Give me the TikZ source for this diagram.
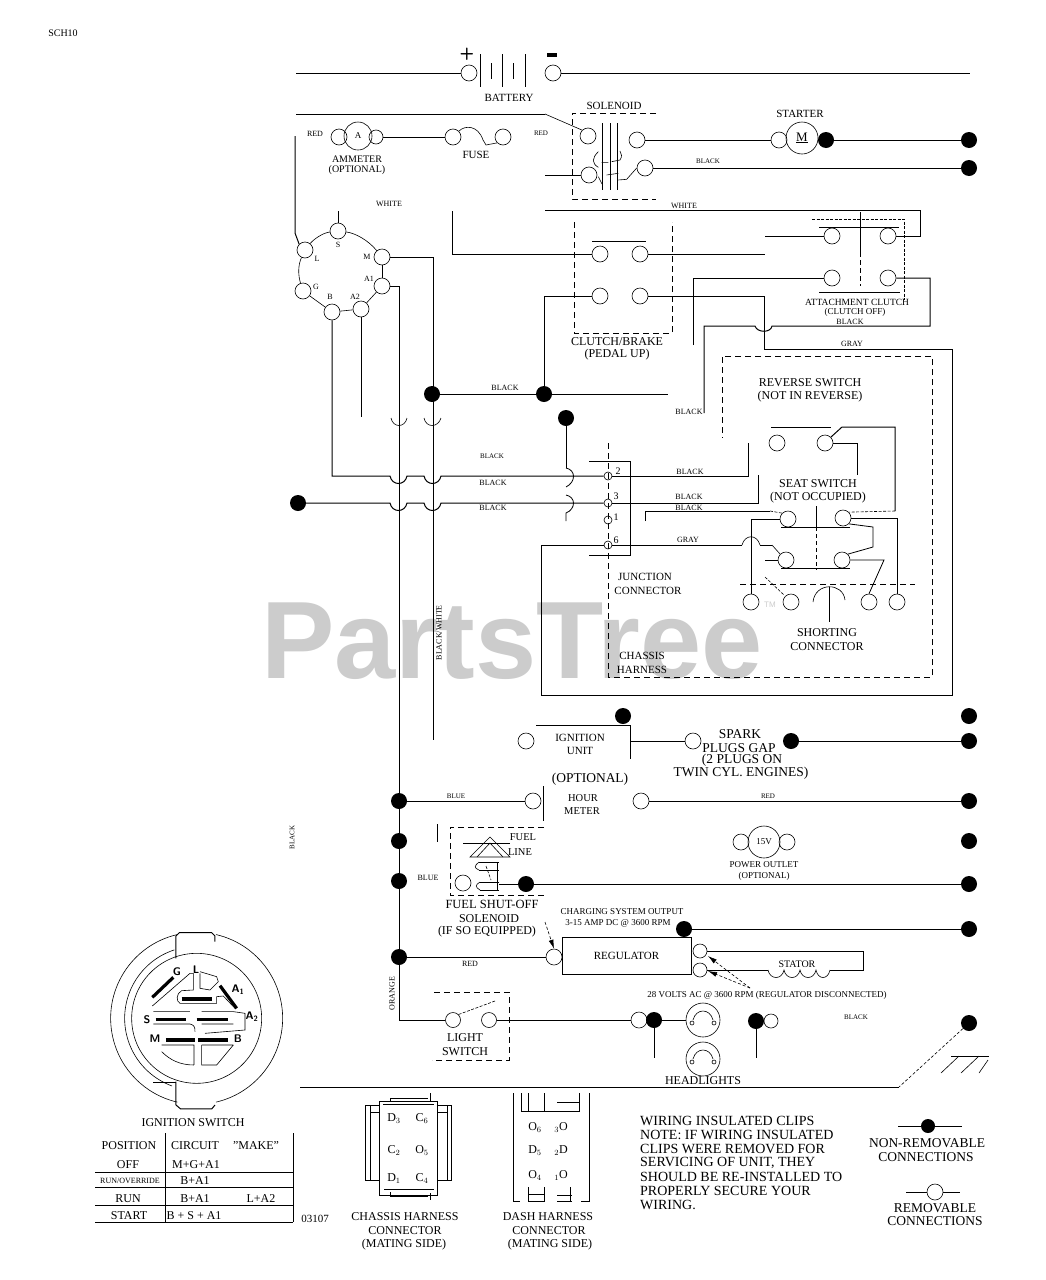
\documentclass[tikz,border=0pt]{standalone}
\usepackage{fontspec}
\setmainfont{Liberation Serif}
\newfontfamily\wmfont{Liberation Sans}
\usetikzlibrary{arrows.meta}
\newcounter{tx}
\newcommand\lb[3][]{\stepcounter{tx}\node[lab,#1] (t\thetx) at (#2) {#3};}
\newcommand\rg[3][]{\node[ring,#1] (#2) at (#3) {};}
\newcommand\bl[3][]{\node[blob,#1] (#2) at (#3) {};}
\tikzset{
 wire/.style={line width=1pt},
 thin wire/.style={line width=.6pt},
 dash wire/.style={line width=.8pt,dash pattern=on 6pt off 4pt},
 fine dash/.style={line width=.6pt,dash pattern=on 3pt off 1.5pt},
 ring/.style={circle,draw,line width=.6pt,minimum size=16pt,inner sep=0pt},
 smallring/.style={minimum size=14pt},
 pin/.style={minimum size=8pt},
 blob/.style={circle,fill=black,minimum size=16pt,inner sep=0pt},
 lab/.style={font=\fontsize{12}{13}\selectfont,inner sep=0pt,align=center,yshift=-.7pt},
 big/.style={font=\fontsize{13.5}{14}\selectfont},
 note/.style={font=\fontsize{14}{15}\selectfont,anchor=west},
 mid/.style={font=\fontsize{10}{11}\selectfont},
 sml/.style={font=\fontsize{8}{9}\selectfont},
 smlb/.style={font=\fontsize{9}{10}\selectfont},
 tiny/.style={font=\fontsize{7}{8}\selectfont},
 term/.style={font=\fontsize{11}{12}\selectfont\bfseries\sffamily},
 bar/.style={line width=3.2pt},
 tip/.style={-{Latex[length=9pt,width=5pt]},line width=.6pt,densely dashed},
}
\begin{document}
\begin{tikzpicture}[x=1pt,y=-1pt]
\useasboundingbox[fill=white] (0,0) rectangle (1046,1280);
% watermark
\node[inner sep=0pt,text=black!20] (wm) at (512,641) {\wmfont\fontsize{110}{112}\selectfont\bfseries PartsTree};
\node[inner sep=0pt,text=black!20] (tm) at (770,605) {\wmfont\fontsize{8}{9}\selectfont TM};
\lb{63,33}{\fontsize{10}{11}\selectfont SCH10}

% ---- battery
\rg{batp}{469,73}\rg{batn}{553,73}
\coordinate (wl1) at (296,73); \coordinate (wr1) at (970,73);
\draw[wire] (wl1) -- (batp.west);
\draw[wire] (batn.east) -- (wr1);
\foreach \x/\a/\b in {480/54/87,491/63/79,502/54/87,513/63/79,525/54/87}\draw[thin wire,line width=.8pt] (\x,\a) -- (\x,\b);
\node[inner sep=0pt,font=\fontsize{17}{17}\selectfont\bfseries\sffamily] (plus) at (467,54) {+};
\node[inner sep=0pt,fill=black,minimum width=10pt,minimum height=3.2pt] (minus) at (552,55) {};
\lb[font=\fontsize{11}{12}\selectfont]{509,97}{BATTERY}

% ---- solenoid
\lb[font=\fontsize{11}{12}\selectfont]{614,105}{SOLENOID}
\draw[dash wire] (656,113) -- (572,113) -- (572,199) -- (656,199);
\rg{solA}{588,136}\rg{solB}{637,140}\rg{solC}{589,175}\rg{solD}{645,168}
\foreach \x in {602,610,617}\draw[thin wire,line width=.8pt] (\x,123) -- (\x,190);
\begin{scope}[shift={(540,80)},scale=.3333]
\draw[thin wire] (175,215) .. controls (155,235) and (155,250) .. (175,262);
\draw[thin wire] (185,248) -- (205,248) (215,245) -- (240,240) .. controls (247,230) and (245,222) .. (240,213);
\draw[thin wire] (200,285) -- (235,280) (235,300) -- (260,298) -- (solD.west);
\draw[thin wire] (175,290) -- (186,312);
\end{scope}
\coordinate (wl2) at (296,114); \coordinate (wl3) at (545,175);
\draw[wire] (wl2) -- (545,114);
\draw[thin wire] (545,114) -- (solA.north west);
\draw[wire] (wl3) -- (solC.west);
\lb[tiny]{541,133}{RED}

% ---- starter
\lb[font=\fontsize{11}{12}\selectfont]{800,113}{STARTER}
\rg{startL}{779,140}
\node[ring,minimum size=32pt] (motor) at (802,138) {\fontsize{13}{13}\selectfont\underline{M}};
\bl{startR}{826,140}\bl{e1}{969,140}\bl{e2}{969,168}
\draw[wire] (solB.east) -- (startL.west);
\draw[wire] (startR) -- (e1);
\draw[wire] (solD.east) -- (e2);
\lb[tiny]{708,161}{BLACK}

% ---- ammeter and fuse
\rg{amL}{339,137}
\node[ring,minimum size=28pt] (am) at (358,136) {\fontsize{9}{9}\selectfont A};
\rg[smallring]{amR}{376,137}
\rg{fuL}{453,137}\rg{fuR}{503,137}
\draw[wire] (amR.east) -- (fuL.west);
\draw[thin wire] (fuL.north east) .. controls (465,125) and (478,125) .. (483,140) -- (486,145) -- (fuR.south west);
\lb[sml]{315,133}{RED}
\lb[mid]{357,158}{AMMETER}
\lb[mid]{357,169}{(OPTIONAL)}
\lb[font=\fontsize{11}{12}\selectfont]{476,154}{FUSE}
\lb[sml]{389,203}{WHITE}

% ---- key switch terminals
\rg{kL}{305,250}\rg{kS}{338,231}\rg{kM}{382,257}\rg{kAa}{382,286}\rg{kAb}{361,309}\rg{kB}{332,312}\rg{kG}{303,291}
\draw[thin wire] (kL) .. controls (313,240) and (322,233) .. (kS);
\draw[thin wire] (kS) .. controls (355,233) and (368,240) .. (kM);
\draw[thin wire] (kM) -- (kAa);
\draw[thin wire] (kAa) -- (kAb);
\draw[thin wire] (kAb) -- (kB);
\draw[thin wire] (kB) -- (kG);
\draw[thin wire] (kG) .. controls (298,275) and (298,265) .. (kL);
\lb[sml]{338,244}{S}
\lb[sml]{317,258}{L}
\lb[sml]{316,286}{G}
\lb[sml]{330,296}{B}
\lb[sml]{367,256}{M}
\lb[sml]{369,278}{A1}
\lb[sml]{355,296}{A2}
\coordinate (sTop) at (338,211);
\draw[wire] (sTop) -- (kS.north);
\coordinate (redTop) at (295,136);
\draw[wire] (redTop) -- (295,233) -- (kL.north west);
\coordinate (mEnd) at (433,740);
\draw[wire] (kM.east) -- (433,257) -- (mEnd);
\coordinate (busEnd) at (399,1020);
\coordinate (a2End) at (361,417);
\draw[wire] (kAb.south) -- (a2End);
\draw[thin wire] (391,418) .. controls (393,428) and (405,428) .. (407,418);
\draw[thin wire] (424,418) .. controls (426,428) and (438,428) .. (441,418);

% ---- clutch/brake
\draw[dash wire] (574,222) -- (574,333) -- (672,333) -- (672,222);
\rg{cbA}{600,254}\rg{cbB}{640,254}\rg{cbC}{600,296}\rg{cbD}{640,296}
\draw[thin wire,line width=.8pt] (592,241) -- (646,241);
\lb{617,341}{CLUTCH/BRAKE}
\lb{617,354}{(PEDAL UP)}
\coordinate (wTop) at (452,211); \coordinate (wMid) at (765,254);
\draw[wire] (wTop) -- (452,254) -- (cbA.west);
\draw[wire] (cbB.east) -- (wMid);

% ---- attachment clutch
\rg{acA}{832,236}\rg{acB}{888,236}\rg{acC}{832,278}\rg{acD}{888,278}
\draw[fine dash,line width=.8pt] (812,219) -- (904,219) -- (904,300);
\draw[wire] (860,212) -- (860,252);
\draw[fine dash,line width=.8pt,dash pattern=on 5pt off 3pt] (860,252) -- (860,286);
\draw[thin wire,line width=.8pt] (819,227) -- (899,227) (819,292) -- (900,292);
\lb[font=\fontsize{9.5}{10}\selectfont]{857,302}{ATTACHMENT CLUTCH}
\lb[font=\fontsize{9}{10}\selectfont]{855,312}{(CLUTCH OFF)}
\lb[sml]{850,321}{BLACK}
\lb[sml]{684,205}{WHITE}
\lb[sml]{852,343}{GRAY}
\coordinate (wa) at (545,210); \coordinate (wb) at (765,236); \coordinate (wc) at (693,345);
\draw[wire] (wa) -- (920,210) -- (920,236) -- (acB.east);
\draw[wire] (wb) -- (acA.west);
\draw[wire] (wc) -- (693,278) -- (acC.west);
\coordinate (blEnd) at (704,413);
\draw[wire] (acD.east) -- (930,278) -- (930,326) -- (772,326) .. controls (771,333) and (757,333) .. (755,326) -- (704,326) -- (blEnd);
\lb[sml]{689,411}{BLACK}

% ---- black junction dots
\bl{d1}{432,394}\bl{d2}{544,394}\bl{d3}{566,418}
\coordinate (blk) at (668,394);
\draw[wire] (d1) -- (d2) -- (blk);
\draw[wire] (d2) -- (544,296) -- (cbC.west);
\lb[sml]{505,387}{BLACK}

% ---- junction connector
\node[ring,pin] (p2) at (608,476) {};
\node[ring,pin] (p3) at (608,503) {};
\node[ring,pin] (p1) at (608,520) {};
\node[ring,pin] (p6) at (608,545) {};
\draw[dash wire,line width=.7pt] (608,443) -- (608,677) -- (932,677) -- (932,356) -- (722,356) -- (722,438);
\draw[wire] (589,461) -- (630,461) -- (630,555) -- (589,555);
\lb[sml,font=\fontsize{10}{11}\selectfont]{618,470}{2}
\lb[sml,font=\fontsize{10}{11}\selectfont]{616,496}{3}
\lb[sml,font=\fontsize{10}{11}\selectfont]{616,516}{1}
\lb[sml,font=\fontsize{10}{11}\selectfont]{616,540}{6}
\lb[font=\fontsize{11}{12}\selectfont]{645,576}{JUNCTION}
\lb[font=\fontsize{11}{12}\selectfont]{648,590}{CONNECTOR}
\lb[font=\fontsize{11}{12}\selectfont]{642,655}{CHASSIS}
\lb[font=\fontsize{11}{12}\selectfont]{642,669}{HARNESS}

% left crossing wires
\bl{d4}{298,503}
\draw[wire] (kB.south) -- (332,476) -- (390,476) .. controls (392,486) and (405,486) .. (407,476) -- (424,476) .. controls (426,486) and (439,486) .. (441,476) -- (p2.west);
\draw[wire] (d4) -- (390,503) .. controls (392,513) and (405,513) .. (407,503) -- (424,503) .. controls (426,513) and (439,513) .. (441,503) -- (p3.west);
\coordinate (d3End) at (566,521);
\draw[wire] (d3) -- (566,468);
\draw[thin wire,line width=.8pt] (566,468) .. controls (576,470) and (576,482) .. (566,487);
\draw[thin wire,line width=.8pt] (566,495) .. controls (576,497) and (576,509) .. (566,513) -- (d3End);
\draw[wire] (399,286) -- (busEnd);
\draw[wire] (kAa.east) -- (399,286);
\lb[tiny]{492,456}{BLACK}
\lb[sml]{493,482}{BLACK}
\lb[sml]{493,507}{BLACK}
\lb[sml,rotate=90]{439,632}{BLACK/WHITE}
\lb[tiny,rotate=90]{292,837}{BLACK}

% ---- reverse and seat switch
\lb{810,382}{REVERSE SWITCH}
\lb{810,396}{(NOT IN REVERSE)}
\rg{rvA}{777,443}\rg{rvB}{825,443}
\draw[thin wire,line width=.8pt] (771,427) -- (831,427);
\rg{seA}{788,519}\rg{seB}{843,518}\rg{seC}{786,560}\rg{seD}{842,560}
\rg{boA}{751,602}\rg{boB}{791,602}\rg{boC}{869,602}\rg{boD}{897,602}
\draw[thin wire,line width=.8pt] (781,527) -- (850,527) (781,568) -- (850,568);
\draw[wire] (816,506) -- (816,527);
\draw[dash wire,line width=.7pt,dash pattern=on 4pt off 3pt] (816,527) -- (816,570);
\draw[dash wire,line width=.7pt] (740,584) -- (915,584);
\lb{818,483}{SEAT SWITCH}
\lb{818,497}{(NOT OCCUPIED)}
\coordinate (sw2) at (748,443); \coordinate (sw3) at (758,475); \coordinate (sw1) at (645,521);
\draw[wire] (p2.east) -- (748,476) -- (sw2);
\draw[wire] (p3.east) -- (758,503) -- (sw3);
\draw[wire] (sw1) -- (645,511) -- (770,511);
\draw[fine dash] (770,511) -- (seA.north west);
\draw[wire] (rvB.north east) -- (842,427) -- (895,427) -- (895,511);
\draw[fine dash] (895,511) -- (seB.north east);
\coordinate (sw4) at (857,475);
\draw[wire] (rvB.east) -- (857,443) -- (sw4);
\draw[wire] (seA.west) -- (751,519) -- (boA.north);
\draw[wire] (seB.east) -- (897,518) -- (boD.north);
\draw[thin wire,line width=.8pt] (seB.south east) -- (873,527) -- (873,547) -- (seD.north east);
\draw[thin wire,line width=.8pt] (seD.east) -- (884,560) -- (boC.north);
\coordinate (stub) at (765,560);
\draw[wire] (stub) -- (seC.west);
\draw[fine dash] (765,577) -- (784,595);
\draw[thin wire] (772,545) -- (seC.north west);
\draw[thin wire] (742,545) .. controls (745,534) and (757,534) .. (760,545);
\draw[wire] (760,545) -- (772,545);
\draw[thin wire] (813,602) .. controls (815,582) and (843,582) .. (845,600);
\coordinate (sc) at (829,622);
\draw[wire] (829,587) -- (sc);
\lb{827,632}{SHORTING}
\lb{827,646}{CONNECTOR}
\lb[sml]{690,471}{BLACK}
\lb[sml]{689,496}{BLACK}
\lb[sml]{689,507}{BLACK}
\lb[sml]{688,539}{GRAY}

% gray loop
\draw[wire] (cbD.east) -- (764,296) -- (764,349) -- (952,349) -- (952,695) -- (541,695) -- (541,545) -- (p6.west);
\draw[wire] (p6.east) -- (742,545);

% ---- ignition unit
\bl{iu}{623,716}\bl{e3}{969,716}\bl{e4}{969,741}\bl{sp}{791,741}
\rg{iuA}{526,741}\rg{iuB}{693,741}
\draw[wire] (536,725) -- (630,725) -- (630,759);
\draw[wire] (630,741) -- (iuB.west);
\draw[wire] (sp) -- (e4);
\lb[font=\fontsize{11}{12}\selectfont]{580,737}{IGNITION}
\lb[font=\fontsize{11}{12}\selectfont]{580,750}{UNIT}
\lb[big]{740,733}{SPARK}
\lb[big]{739,747}{PLUGS GAP}
\lb[big]{742,760}{(2 PLUGS ON}
\lb[big]{741,773}{TWIN CYL. ENGINES)}

% ---- hour meter
\bl{b1}{399,801}\bl{b2}{399,841}\bl{b3}{399,881}\bl{b4}{399,957}
\bl{e5}{969,801}\bl{e6}{969,841}\bl{e7}{969,884}\bl{e8}{969,929}
\rg{hmA}{533,801}\rg{hmB}{641,801}
\draw[wire] (b1) -- (hmA.west);
\draw[wire] (hmB.east) -- (e5);
\draw[wire] (543,786) -- (543,821);
\lb[big]{590,779}{(OPTIONAL)}
\lb[font=\fontsize{10.5}{11}\selectfont]{583,797}{HOUR}
\lb[font=\fontsize{10.5}{11}\selectfont]{582,810}{METER}
\lb[tiny]{456,796}{BLUE}
\lb[tiny]{768,796}{RED}

% ---- fuel solenoid
\draw[dash wire,line width=.7pt] (544,827) -- (450,827) -- (450,895) -- (544,895);
\draw[wire] (437,824) -- (437,842);
\lb[font=\fontsize{10.5}{11}\selectfont]{523,836}{FUEL}
\lb[font=\fontsize{10.5}{11}\selectfont]{520,851}{LINE}
\draw[thin wire,line width=.8pt] (463,843) -- (510,843);
\draw[thin wire] (470,857) -- (490,837) -- (510,857) -- cycle;
\draw[thin wire] (477,857) -- (490,843) -- (503,857);
\draw[wire] (497,862) -- (497,890);
\draw[thin wire] (479,862) -- (499,862) (479,870) -- (499,870) (480,882) -- (499,882) (480,890) -- (499,890);
\draw[thin wire] (479,862) .. controls (474,866) and (474,868) .. (479,870) (480,882) .. controls (475,885) and (475,887) .. (480,890);
\draw[fine dash] (486,866) -- (491,880);
\rg{fsA}{463,883}\bl{fsB}{526,884}
\draw[wire] (499,884) -- (fsB) -- (e7);
\lb[tiny,font=\fontsize{8}{9}\selectfont]{428,877}{BLUE}
\lb[font=\fontsize{12.5}{13}\selectfont]{492,904}{FUEL SHUT-OFF}
\lb{489,918}{SOLENOID}
\lb{487,931}{(IF SO EQUIPPED)}

% ---- power outlet
\rg{poA}{741,842}\rg{poB}{787,842}
\node[ring,minimum size=32pt] (po) at (764,842) {\fontsize{9}{9}\selectfont 15V};
\lb[font=\fontsize{9}{10}\selectfont]{764,864}{POWER OUTLET}
\lb[font=\fontsize{9}{10}\selectfont]{764,876}{(OPTIONAL)}

% ---- regulator
\node[draw,line width=.8pt,minimum width=129pt,minimum height=37pt,inner sep=0pt,font=\fontsize{11}{12}\selectfont] (reg) at (626.5,955.5) {REGULATOR};
\rg{rgA}{554,957}\rg[smallring]{rgB}{700,951}\rg[smallring]{rgC}{700,970}
\bl{rgD}{684,929}
\draw[wire] (rgD) -- (e8);
\draw[wire] (b4) -- (rgA.west);
\coordinate (stA) at (768,970); \coordinate (stB) at (830,970);
\draw[wire] (rgB.east) -- (863,951) -- (863,970) -- (stB);
\draw[wire] (rgC.east) -- (stA);
\draw[thin wire] (stA) .. controls (770,980) and (782,980) .. (784,970) .. controls (786,980) and (798,980) .. (800,970) .. controls (802,980) and (814,980) .. (816,970) .. controls (818,980) and (828,980) .. (stB);
\lb[font=\fontsize{10}{11}\selectfont]{797,964}{STATOR}
\lb[smlb]{622,911}{CHARGING SYSTEM OUTPUT}
\lb[smlb]{618,923}{3-15 AMP DC @ 3600 RPM}
\lb[smlb]{767,995}{28 VOLTS AC @ 3600 RPM (REGULATOR DISCONNECTED)}
\lb[sml]{470,963}{RED}
\coordinate (tA) at (545,922); \coordinate (tB) at (750,988);
\draw[tip] (tA) -- (rgA.north);
\draw[tip] (tB) -- (708,956);
\draw[tip] (tB) -- (708,971);

% ---- light switch and headlights
\rg[minimum size=15pt]{lsA}{453,1020}\rg[minimum size=15pt]{lsB}{489,1020}
\draw[wire] (busEnd) -- (lsA.west);
\draw[dash wire,line width=.7pt] (434,992) -- (509,992) -- (509,1060) -- (432,1060);
\draw[fine dash] (lsA.north east) -- (495,1001);
\lb[sml,rotate=90]{392,993}{ORANGE}
\lb{465,1037}{LIGHT}
\lb{465,1051}{SWITCH}
\rg{hlA}{639,1020}\bl{hlB}{654,1020}\bl{hlC}{756,1021}\rg[smallring]{hlD}{771,1021}
\node[ring,minimum size=34pt] (hl1) at (703,1020) {};
\node[ring,minimum size=34pt] (hl2) at (703,1059) {};
\coordinate (hv1) at (654,1058); \coordinate (hv2) at (756,1058);
\draw[wire] (lsB.east) -- (hlA.west);
\draw[wire] (hlB) -- (hl1.west);
\draw[wire] (hlB) -- (hv1);
\draw[wire] (hlC) -- (hv2);
\foreach \c in {1020,1059}{
 \draw[thin wire] (693,\c) .. controls (696,\c-12) and (710,\c-12) .. (713,\c);
 \draw[thin wire] (692,\c+3) circle[radius=2pt] (714,\c+3) circle[radius=2pt];
}
\lb{703,1080}{HEADLIGHTS}
\lb[tiny]{856,1017}{BLACK}
\bl{gd}{969,1023}
\coordinate (gnd) at (899,1087); \coordinate (gl) at (300,1087);
\draw[wire] (gl) -- (gnd);
\draw[thin wire,densely dashed] (gd) -- (gnd);
\draw[wire] (951,1056) -- (989,1056);
\draw[thin wire] (959,1056) -- (941,1073) (979,1056) -- (961,1073) (988,1060) -- (979,1073);

% ---- ignition switch drawing
\begin{scope}[shift={(90,920)},scale=.3333]
\draw[thin wire] (320,295) ++(77:258pt) arc[start angle=77,end angle=-77,radius=258pt];
\draw[thin wire] (320,295) ++(103:258pt) arc[start angle=103,end angle=257,radius=258pt];
\draw[thin wire] (320,295) circle[radius=195pt];
\draw[thin wire] (320,295) ++(108:216pt) arc[start angle=108,end angle=250,radius=216pt];
\draw[wire] (258,115) -- (258,48) -- (268,38) -- (365,38) -- (375,48) -- (375,65);
\draw[wire] (258,485) -- (258,555) -- (272,567) -- (365,567) -- (375,555);
\draw[thin wire] (190,487) -- (258,487);
\draw[bar] (187,232) -- (250,172);
\draw[bar] (275,237) -- (365,237);
\draw[bar] (390,197) -- (440,265);
\draw[bar] (197,298) -- (287,298) (320,298) -- (415,298);
\draw[bar] (228,360) -- (315,360) (325,360) -- (415,360);
\draw[thin wire] (187,258) -- (300,160) -- (310,160) -- (310,210) -- (275,212) .. controls (258,220) and (258,245) .. (270,250) -- (380,250) -- (380,230) -- (400,228) -- (435,265);
\draw[thin wire] (330,160) -- (330,205) -- (360,210) -- (385,185) -- (380,170) -- (330,155);
\draw[thin wire] (190,275) -- (300,275) (190,312) -- (300,312) .. controls (312,315) and (315,320) .. (315,335);
\draw[thin wire] (335,275) -- (430,275) -- (465,280) -- (465,330) -- (345,340) (335,312) -- (430,312);
\draw[thin wire] (215,375) -- (312,375) -- (312,435) (335,375) -- (430,375) (335,375) -- (335,435) -- (380,435) -- (430,375) (215,395) .. controls (240,420) and (270,435) .. (312,435);
\end{scope}
\node[inner sep=0pt,term] (tG) at (177,972) {G};
\node[inner sep=0pt,term] (tL) at (196,970) {L};
\node[inner sep=0pt,term] (tA1) at (238,990) {A\textsubscript{1}};
\node[inner sep=0pt,term] (tA2) at (252,1017) {A\textsubscript{2}};
\node[inner sep=0pt,term] (tS) at (147,1020) {S};
\node[inner sep=0pt,term] (tM) at (155,1039) {M};
\node[inner sep=0pt,term] (tB2) at (238,1039) {B};

% ---- table
\lb{193,1122}{IGNITION SWITCH}
\draw[wire] (165,1133) -- (165,1222) (293,1133) -- (293,1222);
\draw[wire] (95,1172) -- (293,1172) (95,1187) -- (293,1187) (95,1205) -- (293,1205) (95,1222) -- (293,1222);
\lb{129,1145}{POSITION}\lb{195,1145}{CIRCUIT}\lb{256,1145}{"MAKE"}
\lb{128,1164}{OFF}\lb{196,1164}{M+G+A1}
\lb[sml]{130,1180}{RUN/OVERRIDE}\lb{195,1180}{B+A1}
\lb{128,1198}{RUN}\lb{195,1198}{B+A1}\lb{261,1198}{L+A2}
\lb{129,1215}{START}\lb{194,1215}{B + S + A1}
\lb[font=\fontsize{11}{12}\selectfont]{315,1218}{03107}

% ---- chassis connector
\node[draw,line width=.8pt,minimum width=58pt,minimum height=94pt,inner sep=0pt] (chs) at (408,1148) {};
\draw[wire,line width=.8pt] (379,1105) -- (365,1105) -- (365,1180) -- (379,1180) (370,1105) -- (370,1180) (370,1112) -- (379,1112);
\draw[wire,line width=.8pt] (437,1105) -- (451,1105) -- (451,1180) -- (437,1180) (447,1105) -- (447,1180) (437,1112) -- (447,1112);
\draw[wire,line width=.8pt] (390,1101) -- (390,1098) -- (428,1098) (430,1093) -- (430,1101);
\draw[wire,line width=.8pt] (390,1192) -- (390,1196) -- (428,1196) (430,1193) -- (430,1200);
\draw[wire,line width=.8pt] (383,1104) -- (434,1104) (384,1189) -- (434,1189);
\lb{394,1118}{D$_3$}\lb{422,1118}{C$_6$}
\lb{394,1150}{C$_2$}\lb{422,1150}{O$_5$}
\lb{394,1178}{D$_1$}\lb{422,1178}{C$_4$}
\lb{405,1216}{CHASSIS HARNESS}
\lb{405,1230}{CONNECTOR}
\lb{404,1244}{(MATING SIDE)}

% ---- dash connector
\draw[wire,line width=.8pt] (513,1093) -- (513,1201) -- (520,1201) (589,1093) -- (589,1201) -- (581,1201);
\draw[wire,line width=.8pt] (521,1093) -- (521,1111) -- (579,1111) -- (579,1093) (528,1093) -- (528,1111) (544,1093) -- (544,1111) (557,1102) -- (579,1102);
\draw[wire,line width=.8pt] (528,1187) -- (528,1201) -- (544,1201) -- (544,1187) (528,1194) -- (544,1194);
\draw[wire,line width=.8pt] (570,1187) -- (570,1201) (557,1195) -- (572,1195) (557,1201) -- (572,1201);
\lb{535,1127}{O$_6$}\lb{561,1127}{$_3$O}
\lb{535,1150}{D$_5$}\lb{561,1150}{$_2$D}
\lb{535,1175}{O$_4$}\lb{561,1175}{$_1$O}
\lb{548,1216}{DASH HARNESS}
\lb{549,1230}{CONNECTOR}
\lb{550,1244}{(MATING SIDE)}

% ---- notes
\lb[note]{640,1120}{WIRING INSULATED CLIPS}
\lb[note]{640,1134}{NOTE: IF WIRING INSULATED}
\lb[note]{640,1148}{CLIPS WERE REMOVED FOR}
\lb[note]{640,1162}{SERVICING OF UNIT, THEY}
\lb[note]{640,1176}{SHOULD BE RE-INSTALLED TO}
\lb[note]{640,1190}{PROPERLY SECURE YOUR}
\lb[note]{640,1204}{WIRING.}

% ---- legend
\bl[minimum size=14pt]{lgA}{928,1126}\rg{lgB}{935,1192}
\coordinate (la) at (898,1126); \coordinate (lb) at (962,1126); \coordinate (lc) at (906,1192); \coordinate (ld) at (960,1192);
\draw[wire] (la) -- (lgA) -- (lb);
\draw[wire] (lc) -- (lgB.west) (lgB.east) -- (ld);
\lb[big]{927,1142}{NON-REMOVABLE}
\lb[big]{926,1156}{CONNECTIONS}
\lb[big]{935,1207}{REMOVABLE}
\lb[big]{935,1220}{CONNECTIONS}
\end{tikzpicture}
\end{document}
